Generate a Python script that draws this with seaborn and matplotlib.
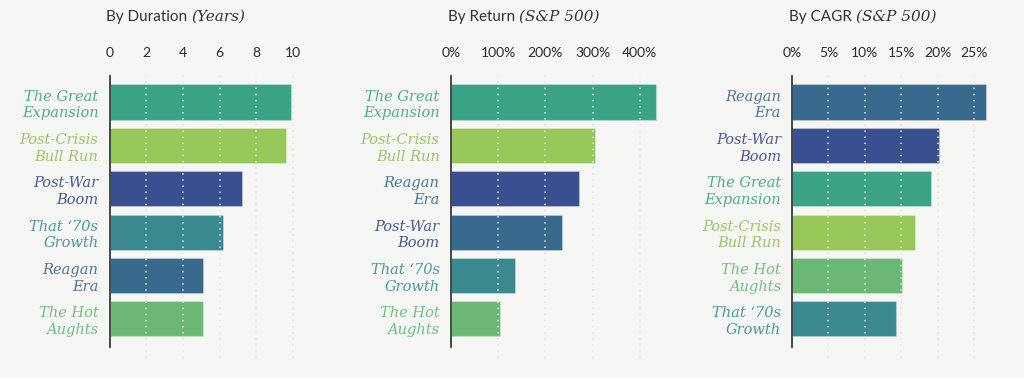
import matplotlib
matplotlib.use("Agg")
import matplotlib.pyplot as plt
import seaborn as sns
import pandas as pd
from matplotlib.ticker import FuncFormatter

# ---- data ----
dur_labels = ["The Great\nExpansion", "Post-Crisis\nBull Run", "Post-War\nBoom",
              "That \u201870s\nGrowth", "Reagan\nEra", "The Hot\nAughts"]
dur_values = [9.9, 9.6, 7.2, 6.2, 5.1, 5.1]

ret_labels = ["The Great\nExpansion", "Post-Crisis\nBull Run", "Reagan\nEra",
              "Post-War\nBoom", "That \u201870s\nGrowth", "The Hot\nAughts"]
ret_values = [435, 306, 271, 235, 137, 105]

cagr_labels = ["Reagan\nEra", "Post-War\nBoom", "The Great\nExpansion",
               "Post-Crisis\nBull Run", "The Hot\nAughts", "That \u201870s\nGrowth"]
cagr_values = [26.6, 20.2, 19.1, 16.8, 15.1, 14.2]

dur_ticks = [0, 2, 4, 6, 8, 10]
ret_ticks = [0, 100, 200, 300, 400]
cagr_ticks = [0, 5, 10, 15, 20, 25]

titles = [("By Duration ", "(Years)"), ("By Return ", "(S&P 500)"), ("By CAGR ", "(S&P 500)")]

# colours
era_bar = {
    "The Great\nExpansion": "#3aa385",
    "Post-Crisis\nBull Run": "#98c75a",
    "Post-War\nBoom": "#3a4f8f",
    "That \u201870s\nGrowth": "#39898f",
    "Reagan\nEra": "#376a8c",
    "The Hot\nAughts": "#6bb876",
}
era_label = {
    "The Great\nExpansion": "#4fae8c",
    "Post-Crisis\nBull Run": "#9dc765",
    "Post-War\nBoom": "#4b5a98",
    "That \u201870s\nGrowth": "#4a9a9c",
    "Reagan\nEra": "#4f7898",
    "The Hot\nAughts": "#72bf82",
}
# the return panel shows Reagan / Post-War bar colours swapped
ret_bar_override = {"Reagan\nEra": "#3a4f8f", "Post-War\nBoom": "#376a8c"}

BG = "#f6f6f4"
sns.set_theme(style="white")
plt.rcParams["font.family"] = ["DejaVu Sans"]

fig = plt.figure(figsize=(10.24, 3.78), dpi=100, facecolor=BG)

W, H = 1024, 378
ax_top = 76
ax_bot = 347
panels = [
    dict(left=109.5, width=200, labels=dur_labels, values=dur_values, ticks=dur_ticks,
         xlim=(0, 10.9), fmt=lambda v, p: f"{v:g}", override={}),
    dict(left=450.7, width=210, labels=ret_labels, values=ret_values, ticks=ret_ticks,
         xlim=(0, 444), fmt=lambda v, p: f"{v:g}%", override=ret_bar_override),
    dict(left=792, width=210, labels=cagr_labels, values=cagr_values, ticks=cagr_ticks,
         xlim=(0, 28.8), fmt=lambda v, p: f"{v:g}%", override={}),
]

for i, pdef in enumerate(panels):
    ax = fig.add_axes([pdef["left"] / W, 1 - ax_bot / H, pdef["width"] / W, (ax_bot - ax_top) / H])
    ax.set_facecolor("none")
    df = pd.DataFrame({"era": pdef["labels"], "value": pdef["values"]})
    cols = [pdef["override"].get(l, era_bar[l]) for l in pdef["labels"]]
    sns.barplot(data=df, x="value", y="era", hue="era", palette=cols, legend=False,
                orient="h", width=0.81, ax=ax, saturation=1,
                edgecolor="#ffffff40", linewidth=0.8, zorder=2)
    ax.set_ylim(5.65, -0.6)
    ax.set_xlim(*pdef["xlim"])
    ax.set_xticks(pdef["ticks"])
    ax.xaxis.set_major_formatter(FuncFormatter(pdef["fmt"]))
    ax.xaxis.tick_top()
    ax.tick_params(axis="x", length=0, pad=12, labelsize=10, labelcolor="#2a2a2a")
    for t in ax.get_xticklabels():
        t.set_family("Lato")
    ax.tick_params(axis="y", length=0, pad=8)
    ax.set_xlabel("")
    ax.set_ylabel("")
    for t, lab in zip(ax.get_yticklabels(), pdef["labels"]):
        t.set_color(era_label[lab])
        t.set_fontstyle("italic")
        t.set_family("DejaVu Serif")
        t.set_fontsize(10.5)
        t.set_linespacing(1.25)
    for s in ["top", "right", "bottom"]:
        ax.spines[s].set_visible(False)
    ax.spines["left"].set_color("#3a3a3a")
    ax.spines["left"].set_linewidth(1.3)
    ax.spines["left"].set_zorder(4)
    # dotted grid drawn over bars
    for tv in pdef["ticks"][1:]:
        ax.plot([tv, tv], [5.9, -0.6], ls=(0, (1, 3)), color="#e6e6e4", lw=1.1,
                zorder=3, clip_on=False)
    # title
    tx = (pdef["left"] - 3) / W
    ty = 1 - 17 / H
    t1 = fig.text(tx, ty, titles[i][0], ha="left", va="center", fontsize=11,
                  color="#333333", family="Lato")
    ax.annotate(titles[i][1], xy=(1, 0), xycoords=t1, ha="left", va="bottom",
                fontsize=11, color="#333333", family="DejaVu Serif", fontstyle="italic")

fig.savefig("out.png", dpi=100, facecolor=BG)
